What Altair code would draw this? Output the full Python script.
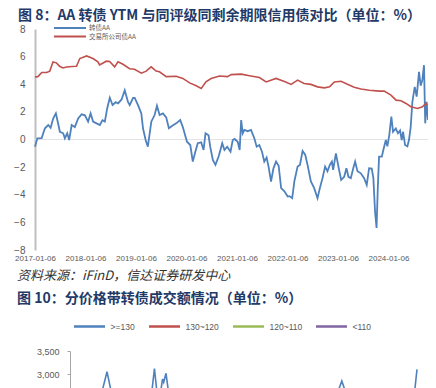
import altair as alt
import pandas as pd

title1 = "图 8：AA 转债 YTM 与同评级同剩余期限信用债对比（单位：%）"
source = "资料来源：iFinD，信达证券研发中心"
title2 = "图 10：分价格带转债成交额情况（单位：%）"

s1_names = ["转债AA", "交易所公司债AA"]
s1_colors = ["#4F81BD", "#C0504D"]

cb_dates = ["2017/01/06", "2017/01/23", "2017/02/23", "2017/03/19", "2017/04/12", "2017/04/29",
            "2017/05/18", "2017/06/06", "2017/07/05", "2017/07/29", "2017/08/10", "2017/08/27",
            "2017/09/10", "2017/09/28", "2017/10/21", "2017/11/14", "2017/12/09", "2018/01/02",
            "2018/01/25", "2018/02/12", "2018/03/02", "2018/03/27", "2018/04/20", "2018/05/09",
            "2018/05/26", "2018/06/12", "2018/07/01", "2018/07/21", "2018/08/13", "2018/08/30",
            "2018/09/24", "2018/10/17", "2018/11/10", "2018/11/22", "2018/12/16", "2018/12/28",
            "2019/01/21", "2019/02/14", "2019/02/26", "2019/03/17", "2019/04/02", "2019/04/15",
            "2019/04/27", "2019/05/21", "2019/06/07", "2019/06/26", "2019/07/20", "2019/08/13",
            "2019/09/01", "2019/09/26", "2019/10/24", "2019/11/22", "2019/12/11", "2020/01/10",
            "2020/02/03", "2020/02/21", "2020/03/10", "2020/03/28", "2020/04/22", "2020/05/09",
            "2020/05/23", "2020/06/14", "2020/06/26", "2020/07/15", "2020/08/03", "2020/08/27",
            "2020/09/21", "2020/10/07", "2020/10/27", "2020/11/20", "2020/12/06", "2020/12/19",
            "2021/01/11", "2021/01/25", "2021/02/05", "2021/02/16", "2021/02/28", "2021/03/24",
            "2021/04/17", "2021/05/11", "2021/05/28", "2021/06/16", "2021/07/06", "2021/07/22",
            "2021/08/08", "2021/08/22", "2021/09/09", "2021/09/26", "2021/10/15", "2021/11/03",
            "2021/11/21", "2021/12/15", "2022/01/07", "2022/01/20", "2022/02/09", "2022/02/25",
            "2022/03/20", "2022/04/06", "2022/04/25", "2022/05/14", "2022/05/31", "2022/06/24",
            "2022/07/18", "2022/08/11", "2022/08/28", "2022/09/16", "2022/10/05", "2022/10/22",
            "2022/11/08", "2022/11/23", "2022/12/02", "2022/12/22", "2023/01/10", "2023/01/29",
            "2023/02/20", "2023/03/08", "2023/03/23", "2023/04/09", "2023/04/26", "2023/05/10",
            "2023/05/27", "2023/06/20", "2023/07/14", "2023/08/02", "2023/08/19", "2023/09/07",
            "2023/09/19", "2023/10/01", "2023/10/12", "2023/10/21", "2023/10/30", "2023/11/19",
            "2023/11/30", "2023/12/18", "2023/12/29", "2024/01/12", "2024/01/27", "2024/02/08",
            "2024/02/28", "2024/03/15", "2024/03/30", "2024/04/11", "2024/04/21", "2024/05/05",
            "2024/05/22", "2024/06/03", "2024/06/15", "2024/06/27", "2024/07/14", "2024/07/28",
            "2024/08/14", "2024/08/26", "2024/09/07", "2024/09/19", "2024/09/28", "2024/10/08",
            "2024/10/18"]
cb_vals = [-0.52, 0.09, 0.10, 0.81, 1.05, 0.85,
           1.53, 1.89, 0.56, 0.45, 0.09, 0.45,
           -0.04, 1.05, 0.90, 1.53, 1.82, 1.75,
           1.29, 1.89, 1.30, 1.17, 1.05, 1.40,
           1.30, 2.25, 3.02, 2.50, 2.70, 2.61,
           2.90, 3.57, 2.70, 2.49, 3.02, 3.02,
           2.49, 1.89, 0.81, -0.04, -0.52, 0.40,
           1.29, 1.77, 2.44, 1.77, 1.89, 1.60,
           0.81, 1.00, 1.17, 1.41, 0.90, -0.16,
           -0.40, -1.60, -0.90, -0.27, -0.20, -0.76,
           0.45, 0.30, -0.52, -1.48, -1.84, -1.20,
           -0.27, -0.76, -0.52, -0.88, -0.04, 0.04,
           -0.16, -0.76, 1.41, 0.45, 0.69, 0.60,
           0.69, 0.09, -0.52, -0.40, -0.90, -1.60,
           -1.30, -1.96, -3.04, -2.10, -1.60, -1.90,
           -3.52, -3.75, -4.13, -4.10, -4.25, -3.00,
           -1.96, -1.84, -0.83, -1.10, -1.84, -3.04,
           -3.52, -4.25, -3.52, -2.80, -1.96, -2.30,
           -1.84, -1.60, -2.20, -1.00, -2.00, -2.92,
           -2.70, -2.08, -2.70, -2.80, -2.10, -1.60,
           -2.30, -2.45, -2.80, -3.29, -2.08, -2.10,
           -2.80, -5.21, -6.41, -3.50, -1.24, -1.24,
           -0.76, -0.04, -0.50, 0.32, 1.65, 0.56,
           0.80, 0.45, 0.65, -0.04, 0.56, -0.40,
           -0.50, 0.00, 0.92, 2.73, 3.81, 3.10,
           4.90, 3.90, 4.30, 5.38, 1.17, 2.73,
           1.41]

cr_dates = ["2017/01/06", "2017/01/27", "2017/02/24", "2017/04/01", "2017/04/23", "2017/05/16",
            "2017/06/10", "2017/07/03", "2017/07/27", "2017/08/22", "2017/09/29", "2017/11/02",
            "2017/11/26", "2018/01/14", "2018/03/01", "2018/04/06", "2018/04/18", "2018/06/06",
            "2018/06/30", "2018/08/05", "2018/08/29", "2018/10/04", "2018/11/21", "2018/12/27",
            "2019/02/14", "2019/03/21", "2019/04/26", "2019/06/01", "2019/06/25", "2019/08/13",
            "2019/10/24", "2019/12/11", "2020/01/29", "2020/03/17", "2020/04/22", "2020/05/28",
            "2020/07/03", "2020/09/01", "2020/10/29", "2020/11/25", "2021/02/06", "2021/04/06",
            "2021/06/17", "2021/08/04", "2021/10/15", "2021/12/15", "2022/02/01", "2022/03/20",
            "2022/05/06", "2022/06/24", "2022/08/11", "2022/09/29", "2022/11/06", "2022/12/11",
            "2023/01/28", "2023/03/16", "2023/05/03", "2023/06/21", "2023/08/21", "2023/10/30",
            "2023/12/06", "2024/01/24", "2024/03/01", "2024/04/06", "2024/05/12", "2024/06/16",
            "2024/08/03", "2024/09/08", "2024/10/03", "2024/10/15"]
cr_vals = [4.53, 4.55, 4.85, 4.85, 4.95, 5.62,
           5.55, 5.30, 5.18, 5.25, 5.28, 5.30,
           5.86, 6.05, 5.86, 5.62, 5.40, 5.67,
           5.65, 5.26, 5.62, 5.45, 5.12, 5.09,
           4.80, 4.95, 5.26, 4.95, 4.90, 4.55,
           4.58, 4.42, 4.10, 3.89, 3.70, 4.20,
           4.42, 4.60, 4.55, 4.70, 4.73, 4.62,
           4.49, 4.17, 4.42, 4.20, 3.99, 4.30,
           4.05, 3.99, 3.81, 3.74, 3.81, 4.17,
           4.22, 4.00, 3.79, 3.65, 3.57, 3.50,
           3.50, 3.21, 2.85, 2.80, 2.61, 2.37,
           2.25, 2.37, 2.61, 2.50]

tick_years = [2017, 2018, 2019, 2020, 2021, 2022, 2023, 2024]
y1_ticks = [-8, -6, -4, -2, 0, 2, 4, 6, 8]
zero_line = [0]

s2_names = [">=130", "130~120", "120~110", "<110"]
s2_colors = ["#4F81BD", "#C0504D", "#9BBB59", "#8064A2"]
t2_dates = ["2024/01/02", "2024/01/12", "2024/01/22", "2024/01/29", "2024/02/03", "2024/02/08",
            "2024/02/19", "2024/02/28", "2024/03/07", "2024/03/12", "2024/03/15", "2024/03/18",
            "2024/03/20", "2024/03/22", "2024/03/23", "2024/03/25", "2024/03/28", "2024/04/08",
            "2024/04/22", "2024/05/06", "2024/05/20", "2024/06/03", "2024/06/17", "2024/07/01",
            "2024/07/15", "2024/07/29", "2024/08/12", "2024/08/19", "2024/08/24", "2024/08/28",
            "2024/09/09", "2024/09/20", "2024/10/01", "2024/10/14", "2024/10/21", "2024/10/25",
            "2024/10/28"]
v_ge130 = [1400, 1700, 2100, 2550, 3050, 2450,
           1900, 1800, 2300, 2450, 3120, 2400,
           2550, 2890, 2820, 3015, 2450, 2100,
           1700, 1500, 1900, 1400, 1200, 1600,
           1800, 2000, 2200, 2500, 2850, 2550,
           2000, 1500, 1300, 1700, 2000, 2400,
           3100]
v_120_130 = [900, 1000, 1100, 1300, 1500, 1200,
             1000, 950, 1100, 1200, 1400, 1150,
             1200, 1300, 1250, 1350, 1150, 1050,
             900, 850, 950, 800, 750, 850,
             900, 1000, 1100, 1200, 1350, 1200,
             1000, 850, 800, 1000, 1200, 1400,
             1600]
v_110_120 = [1300, 1400, 1500, 1600, 1800, 1500,
             1300, 1250, 1400, 1500, 1700, 1450,
             1500, 1600, 1550, 1650, 1450, 1350,
             1200, 1150, 1250, 1100, 1050, 1150,
             1200, 1300, 1400, 1500, 1650, 1500,
             1300, 1150, 1100, 1300, 1500, 1700,
             1900]
v_lt110 = [600, 650, 700, 750, 850, 700,
           600, 580, 650, 700, 800, 680,
           700, 750, 720, 780, 680, 620,
           560, 540, 580, 520, 500, 540,
           560, 600, 650, 700, 780, 700,
           600, 540, 520, 600, 700, 800,
           900]
y2_ticks = [0, 500, 1000, 1500, 2000, 2500, 3000, 3500]

cjk = "Noto Sans CJK SC"
lat = "Liberation Sans"
gray = "#595959"
navy = "#1F3A68"

# ---------- top chart (图 8) ----------
df_cb = pd.DataFrame({"date": cb_dates, "val": cb_vals, "series": s1_names[0]})
df_cr = pd.DataFrame({"date": cr_dates, "val": cr_vals, "series": s1_names[1]})
df_zero = pd.DataFrame({"val": zero_line})

x1 = alt.X("date:T", scale=alt.Scale(nice=False, padding=0),
           axis=alt.Axis(values=[alt.DateTime(year=y, month=1, date=6) for y in tick_years],
                         format="%Y-%m-%d", labelFontSize=8, labelColor=gray, labelFont=lat,
                         domain=False, ticks=False, grid=False, labelPadding=4,
                         labelFlush=False, labelOverlap=False, title=None))
y1 = alt.Y("val:Q", scale=alt.Scale(domain=[-8, 8], nice=False),
           axis=alt.Axis(values=y1_ticks, orient="left", labelFontSize=10, labelColor=gray,
                         labelFont=lat, domainColor="#bfbfbf", domainWidth=2, ticks=False,
                         grid=False, labelPadding=10, labelOverlap=False, title=None))
color1 = alt.Color("series:N",
                   scale=alt.Scale(domain=s1_names, range=s1_colors),
                   legend=alt.Legend(orient="none", legendX=18, legendY=-4.5, direction="vertical",
                                     title=None, labelFontSize=6.5, labelColor=gray, labelFont=cjk,
                                     symbolType="stroke", symbolSize=1024, symbolStrokeWidth=2,
                                     clipHeight=7, rowPadding=1.6, labelOffset=2))

zero = alt.Chart(df_zero).mark_rule(color="#e3e3e3", strokeWidth=1).encode(y=y1)
blue = alt.Chart(df_cb).mark_line(strokeWidth=1.8).encode(x=x1, y=y1, color=color1)
red = alt.Chart(df_cr).mark_line(strokeWidth=1.6).encode(x=x1, y=y1, color=color1)


def text_layer(txt, x, y, size, color, weight="normal", style="normal"):
    return alt.Chart(pd.DataFrame({"t": [txt]})).mark_text(
        align="left", baseline="alphabetic", font=cjk, fontSize=size, color=color,
        fontWeight=weight, fontStyle=style).encode(text="t:N", x=alt.value(x), y=alt.value(y))


t_title1 = text_layer(title1, -17, -9.2, 14, navy, weight="bold")
t_source = text_layer(source, -18, 251, 13, "#333333", style="italic")
t_title2 = text_layer(title2, -18, 274.3, 14, navy, weight="bold")

top = alt.layer(zero, blue, red, t_title1, t_source, t_title2)

# ---------- bottom chart (图 10) ----------
rows = []
for name, vals in zip(s2_names, [v_ge130, v_120_130, v_110_120, v_lt110]):
    for d, v in zip(t2_dates, vals):
        rows.append({"date2": d, "amt": v, "band": name})
df2 = pd.DataFrame(rows)
df2["order"] = df2["band"].map({n: i for i, n in enumerate(s2_names)})

bottom = alt.Chart(df2).mark_line(strokeWidth=1.6).encode(
    x=alt.X("date2:T", scale=alt.Scale(nice=False, padding=0, range=[35, 382]), axis=None),
    y=alt.Y("amt:Q", scale=alt.Scale(domain=[0, 3500], nice=False, range=[483, 322]),
            axis=alt.Axis(values=y2_ticks, orient="left", offset=-35, format=",.0f",
                          labelFontSize=9, labelColor=gray, labelFont=lat,
                          domainColor="#a6a6a6", tickColor="#a6a6a6", tickSize=3,
                          labelPadding=8, grid=False, labelOverlap=False, title=None)),
    color=alt.Color("band:N", scale=alt.Scale(domain=s2_names, range=s2_colors),
                    legend=alt.Legend(orient="none", legendX=37.5, legendY=280.5,
                                      direction="horizontal", columns=4, title=None,
                                      labelFontSize=8.5, labelColor=gray, labelFont=lat,
                                      symbolType="stroke", symbolSize=961, symbolStrokeWidth=2.5,
                                      columnPadding=8, labelOffset=4)),
    order=alt.Order("order:Q", sort="descending"),
)

chart = alt.layer(top, bottom).resolve_scale(
    x="independent", y="independent", color="independent"
).properties(
    width=393, height=221,
    padding={"left": 27, "top": 21, "right": 0, "bottom": 138},
    autosize=alt.AutoSizeParams(type="none"),
).configure_view(stroke=None)

chart.save("out.html", embed_options={"renderer": "svg", "actions": False})
